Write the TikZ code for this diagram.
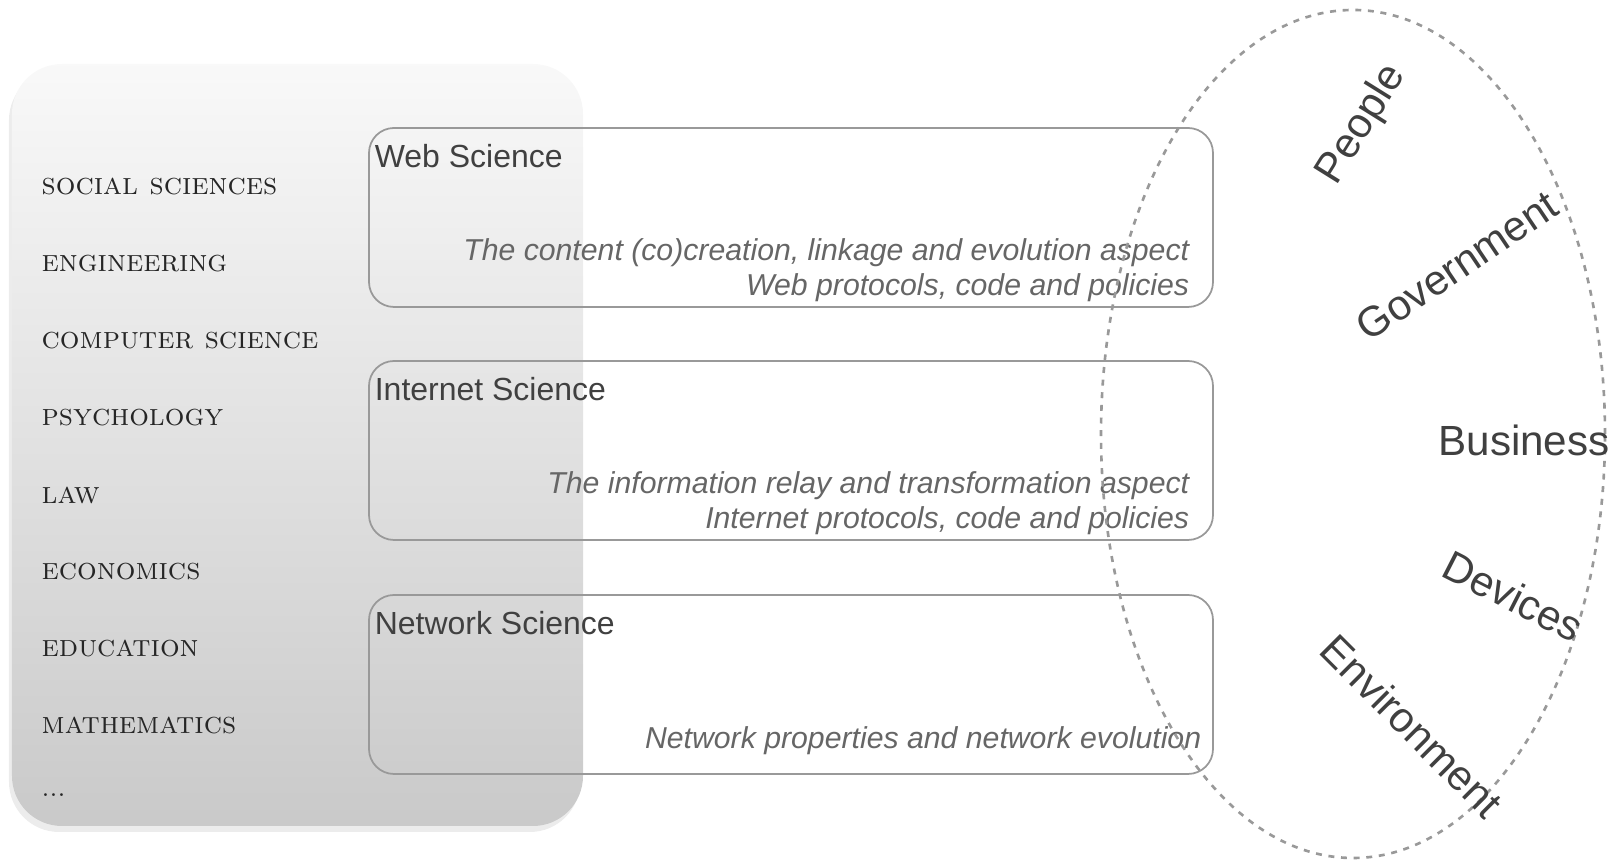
\documentclass[tikz,border=0pt]{standalone}
\usepackage{fontspec}
\setsansfont{Liberation Sans}
\usepackage{tikz}
\usetikzlibrary{positioning}
\usetikzlibrary{shadows}
\definecolor{mgray}{gray}{0.6}
\definecolor{tgray}{gray}{0.25}
\definecolor{igray}{gray}{0.4}
\tikzset{field/.style = {draw = mgray, line width = 0.5pt, rounded corners = 0.25cm,
                         minimum width = 8.44cm, minimum height = 1.79cm, inner sep = 0}}
\tikzset{fieldname/.style = {anchor = north west, inner sep = 0, text = tgray,
                             font = \sffamily\fontsize{9.1}{11}\selectfont}}
\tikzset{aspect/.style = {anchor = south east, inner sep = 0, align = right, text = igray,
                          font = \sffamily\itshape\fontsize{8.6}{10.2}\selectfont}}
\tikzset{discipline/.style = {anchor = west, inner sep = 0, text = black!85,
                              font = \fontsize{8.8}{11}\selectfont\scshape}}
\tikzset{actor/.style = {inner sep = 0, text = tgray, font = \sffamily\fontsize{12}{14}\selectfont}}

\begin{document}
\begin{tikzpicture}
    \useasboundingbox (0, 0) rectangle (16.19, 8.61);

    \shade [rounded corners = 0.5cm, top color = gray!5, bottom color = gray!42,
            drop shadow = {opacity = 0.15, shadow xshift = -0.03cm, shadow yshift = -0.06cm}]
          (0.12, 0.35) rectangle (5.83, 7.97);

    \foreach \name [count = \i] in {social sciences, engineering, computer science, psychology,
                                    law, economics, education, mathematics}
        \node [discipline] (disc\i) at (0.41, {6.74 - 0.77 * (\i - 1)}) {\name};
    \node [discipline, font = \scriptsize] (discmore) at (0.41, 0.66) {...};

    \node [field] (web) at (7.91, 6.435) {};
    \node [field] (internet) at (7.91, 4.105) {};
    \node [field] (network) at (7.91, 1.765) {};

    \node [fieldname] (webname) at ([xshift = 0.06cm, yshift = -0.17cm] web.north west) {Web Science};
    \node [fieldname] (internetname) at ([xshift = 0.06cm, yshift = -0.17cm] internet.north west) {Internet Science};
    \node [fieldname] (networkname) at ([xshift = 0.06cm, yshift = -0.17cm] network.north west) {Network Science};

    \node [aspect] (webtext) at ([xshift = -0.24cm, yshift = 0.05cm] web.south east)
        {The content (co)creation, linkage and evolution aspect\\ Web protocols, code and policies};
    \node [aspect] (internettext) at ([xshift = -0.24cm, yshift = 0.05cm] internet.south east)
        {The information relay and transformation aspect\\ Internet protocols, code and policies};
    \node [aspect] (networktext) at ([xshift = -0.12cm, yshift = 0.19cm] network.south east)
        {Network properties and network evolution};

    \draw [mgray, line width = 0.75pt, dash pattern = on 1.7pt off 1.9pt]
        (13.53, 4.27) ellipse [x radius = 2.52, y radius = 4.24];

    \node [actor, rotate = 58] (people) at (13.62, 7.36) {People};
    \node [actor, rotate = 34] (government) at (14.57, 5.95) {Government};
    \node [actor] (business) at (15.24, 4.21) {Business};
    \node [actor, rotate = -27] (devices) at (15.13, 2.65) {Devices};
    \node [actor, rotate = -45] (environment) at (14.12, 1.35) {Environment};
  \end{tikzpicture}
\end{document}
